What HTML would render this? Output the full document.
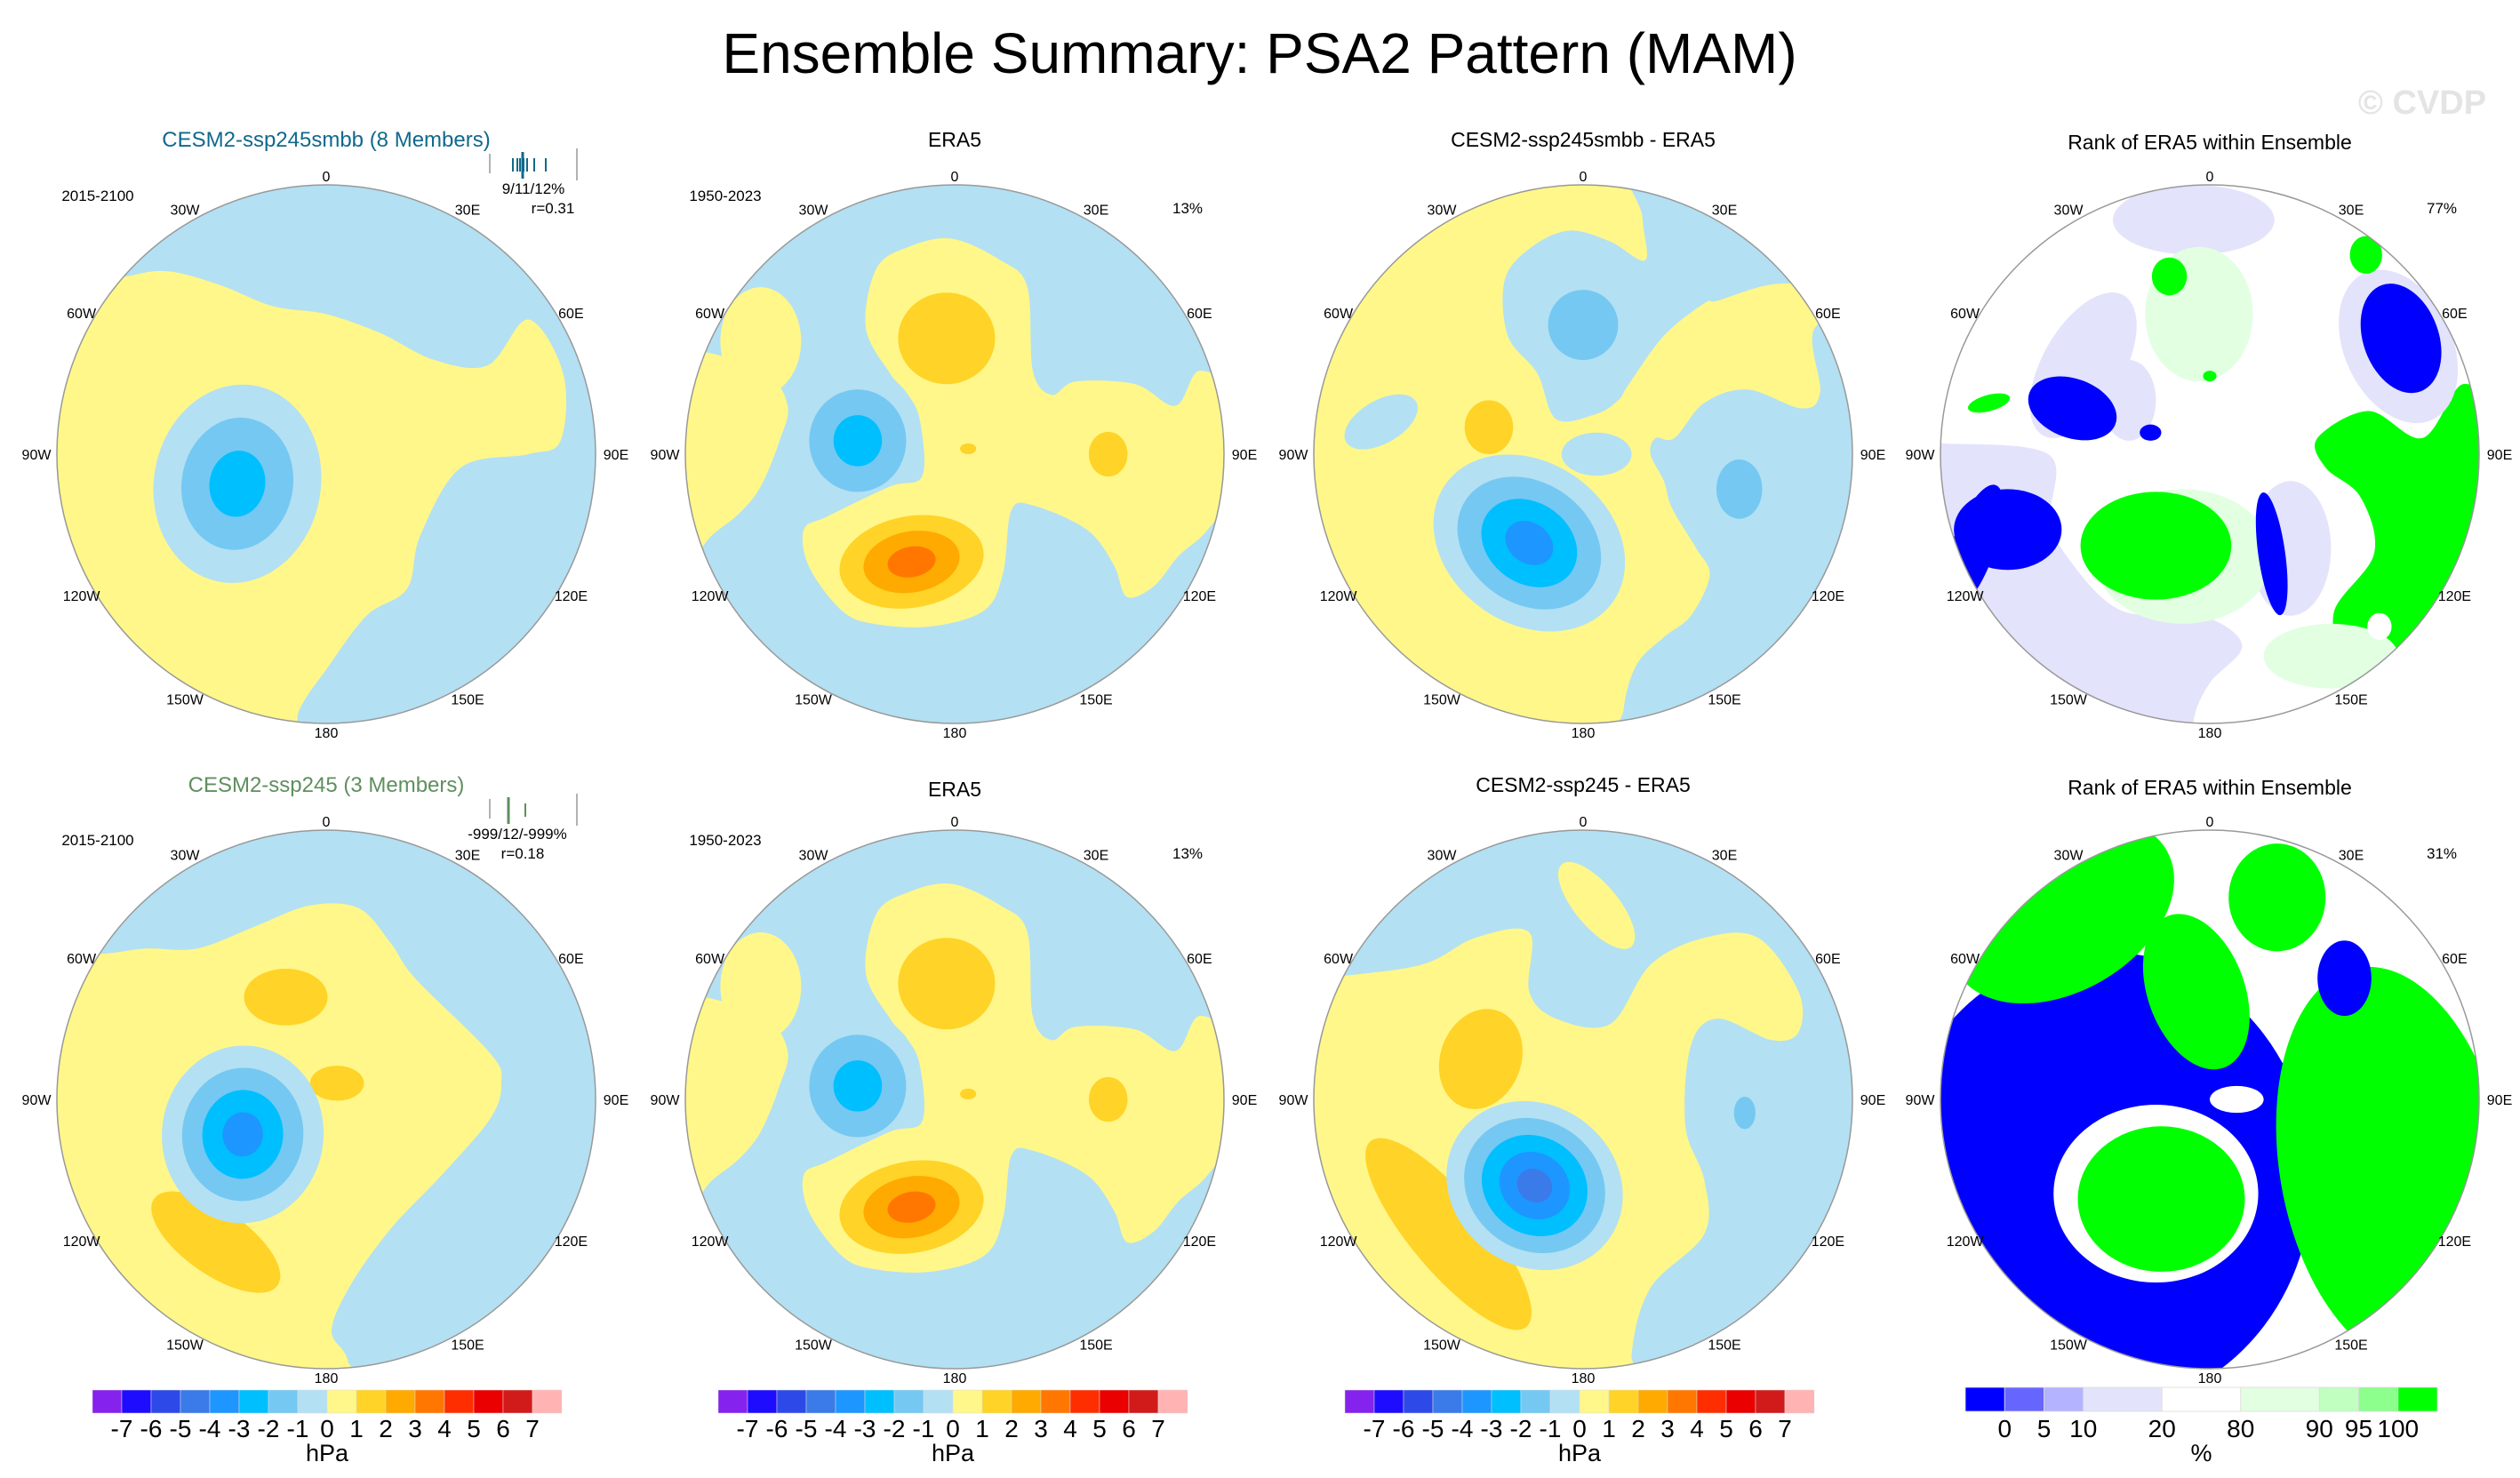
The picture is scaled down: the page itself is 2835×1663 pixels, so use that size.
<!DOCTYPE html>
<html><head><meta charset="utf-8"><style>
html,body{margin:0;padding:0;background:#fff;}
svg{display:block;font-family:"Liberation Sans",sans-serif;}
</style></head><body>
<svg id="fig" width="2835" height="1663" viewBox="0 0 2835 1663" xmlns="http://www.w3.org/2000/svg">
<text x="1417" y="82" font-size="64" text-anchor="middle">Ensemble Summary: PSA2 Pattern (MAM)</text>
<text x="2725" y="128" font-size="38" font-weight="bold" fill="#e4e4e4" text-anchor="middle">© CVDP</text>
<g id="panels"></g>
<g id="bars"></g>
</svg>
<script>
// ---- data ----
const negColors = ['#b3e0f3','#75c8f2','#00bfff','#1e96ff','#3a7be9','#2d4ae8','#1e0cff','#8522ee'];
const posColors = ['#fff78a','#ffd327','#ffaa00','#ff7700','#ff2e00','#ea0000','#d11b1b','#ffb3b3'];
const hpaColors = ['#8522ee','#1e0cff','#2d4ae8','#3a7be9','#1e96ff','#00bfff','#75c8f2','#b3e0f3','#fff78a','#ffd327','#ffaa00','#ff7700','#ff2e00','#ea0000','#d11b1b','#ffb3b3'];
const hpaLabels = ['-7','-6','-5','-4','-3','-2','-1','0','1','2','3','4','5','6','7'];
const rankColors = ['#0000ff','#6666ff','#b3b3ff','#e3e3fb','#ffffff','#e2ffe2','#c0ffc0','#8cff8c','#00ff00'];
const rankWidths = [1,1,1,2,2,2,1,1,1];
const rankLabels = ['0','5','10','20','80','90','95','100'];
const lonLabels = ['0','30E','60E','90E','120E','150E','180','150W','120W','90W','60W','30W'];
// region polygons: [level(+1 yellow / -1 light blue), points...]
const p1Regions = [[1,[-0.8,-0.65,-0.6,-0.68,-0.4,-0.63,-0.2,-0.55,0.0,-0.52,0.2,-0.45,0.4,-0.35,0.6,-0.33,0.75,-0.5,0.88,-0.3,0.87,-0.05,0.75,0.0,0.5,0.05,0.35,0.3,0.3,0.5,0.15,0.6,0.0,0.8,-0.1,0.95,-0.2,1.2,-1.2,1.2,-1.2,-0.6]]];
const p2Regions = [[1,[-0.33,-0.47,-0.29,-0.69,-0.17,-0.77,-0.01,-0.8,0.17,-0.72,0.27,-0.62,0.29,-0.31,0.36,-0.22,0.45,-0.27,0.67,-0.26,0.82,-0.18,0.91,-0.31,1.05,-0.2,1.05,0.1,0.94,0.28,0.83,0.38,0.74,0.49,0.64,0.53,0.59,0.41,0.49,0.28,0.29,0.19,0.21,0.21,0.18,0.44,0.11,0.58,-0.09,0.64,-0.3,0.63,-0.42,0.58,-0.54,0.42,-0.56,0.28,-0.47,0.23,-0.24,0.12,-0.12,0.08,-0.13,-0.13,-0.18,-0.23,-0.24,-0.3]],
  [1,[-1.2,-0.4,-0.93,-0.38,-0.7,-0.3,-0.62,-0.18,-0.65,-0.05,-0.72,0.12,-0.8,0.22,-0.9,0.3,-1.0,0.4,-1.2,0.4]]];
const p3Regions = [[-1,[-0.28,-0.44,-0.29,-0.65,-0.19,-0.77,-0.05,-0.83,0.1,-0.79,0.23,-0.72,0.22,-0.88,0.2,-1.2,1.2,-1.2,1.2,-0.55,0.88,-0.62,0.7,-0.63,0.5,-0.57,0.45,-0.56,0.3,-0.44,0.17,-0.26,0.13,-0.2,0.05,-0.15,-0.1,-0.13,-0.17,-0.3]],
  [-1,[0.87,-0.48,0.88,-0.23,0.81,-0.17,0.61,-0.24,0.45,-0.19,0.34,-0.06,0.27,-0.06,0.25,0.0,0.3,0.1,0.33,0.2,0.42,0.35,0.47,0.45,0.4,0.6,0.3,0.68,0.2,0.78,0.15,0.95,0.15,1.2,1.2,1.2,1.2,-0.48]]];
const p5Regions = [[1,[-0.85,-0.54,-0.67,-0.56,-0.48,-0.56,-0.27,-0.64,-0.06,-0.72,0.12,-0.71,0.24,-0.58,0.33,-0.45,0.61,-0.17,0.65,-0.06,0.61,0.07,0.43,0.28,0.24,0.48,0.09,0.69,0.02,0.86,0.08,0.97,0.1,1.2,-1.2,1.2,-1.2,-0.54]]];
const p7Regions = [[1,[-0.95,-0.45,-0.6,-0.5,-0.4,-0.6,-0.2,-0.62,-0.2,-0.4,-0.1,-0.3,0.1,-0.28,0.25,-0.5,0.45,-0.6,0.65,-0.6,0.8,-0.4,0.8,-0.25,0.7,-0.22,0.5,-0.3,0.4,-0.2,0.38,0.1,0.45,0.3,0.45,0.5,0.25,0.7,0.18,0.95,0.2,1.2,-1.2,1.2,-1.2,-0.4]]];
// blobs: [x, y, rx, ry, rotation, amplitude(levels), startLevel]
const p1Blobs = [[-0.33,0.11,0.31,0.37,10,-3,1]];
const p2Blobs = [[-0.03,-0.43,0.18,0.17,0,2,2],[0.57,0.0,0.072,0.083,0,2,2],[-0.16,0.4,0.27,0.17,-10,4,2],[-0.36,-0.05,0.18,0.19,0,-3,2],[-0.72,-0.42,0.15,0.2,0,1,1],[0.05,-0.02,0.03,0.02,0,2,2]];
const p3Blobs = [[0.0,-0.48,0.13,0.13,0,-2,2],[-0.35,-0.1,0.09,0.1,0,2,2],[0.58,0.13,0.085,0.11,0,-2,2],[0.05,0.0,0.13,0.08,0,-1,1],[-0.75,-0.12,0.15,0.08,-30,-1,1],[-0.2,0.33,0.38,0.3,35,-4,1]];
const p5Blobs = [[-0.15,-0.38,0.155,0.105,0,2,2],[0.04,-0.06,0.1,0.065,0,2,2],[-0.41,0.53,0.28,0.12,35,2,2],[-0.31,0.13,0.3,0.33,5,-4,1]];
const p6Blobs = p2Blobs;
const p6Regions = p2Regions;
const p7Blobs = [[0.05,-0.72,0.08,0.2,-40,1,1],[-0.5,0.5,0.45,0.14,50,2,2],[-0.38,-0.15,0.15,0.19,20,2,2],[-0.18,0.32,0.34,0.3,35,-5,1],[0.6,0.05,0.04,0.06,0,-2,2]];
// rank polygons: [colorIndex, points]
const p4RankRegions = [[3,[-1.2,-0.04,-1.0,-0.04,-0.6,0.0,-0.59,0.23,-0.53,0.38,-0.33,0.58,-0.03,0.6,0.12,0.71,0.0,0.85,-0.06,0.99,-0.06,1.2,-1.2,1.2]],
  [8,[0.4,-0.06,0.59,-0.16,0.79,-0.06,0.94,-0.26,1.05,-0.1,1.0,0.5,0.76,0.78,0.53,0.78,0.46,0.59,0.61,0.37,0.56,0.16,0.43,0.05]]];
const p8RankRegions = [];
// rank blobs: [x, y, rx, ry, rotation, colorIndex]
const p4Rank = [[-0.06,-0.87,0.3,0.13,0,3],[-0.47,-0.33,0.15,0.3,30,3],[-0.3,-0.2,0.1,0.15,0,3],[0.7,-0.4,0.2,0.3,-25,3],[0.3,0.35,0.15,0.25,0,3],
  [-0.04,-0.52,0.2,0.25,0,5],[0.45,0.75,0.25,0.12,0,5],[-0.1,0.38,0.33,0.25,0,5],
  [-0.2,0.34,0.28,0.2,0,8],[0.63,0.64,0.045,0.05,0,4],[-0.15,-0.66,0.065,0.07,0,8],[0.58,-0.74,0.06,0.07,0,8],[0.0,-0.29,0.025,0.02,0,8],[-0.82,-0.19,0.08,0.03,-15,8],
  [0.71,-0.43,0.14,0.21,-20,0],[-0.75,0.28,0.2,0.15,0,0],[-0.88,0.35,0.08,0.25,20,0],[-0.51,-0.17,0.17,0.11,20,0],[-0.22,-0.08,0.04,0.03,0,0],[0.23,0.37,0.05,0.23,-8,0]];
const p8Rank = [[-0.4,0.3,0.78,0.85,0,0],[-0.55,-0.7,0.45,0.3,-30,8],[-0.05,-0.4,0.18,0.3,-20,8],[0.25,-0.75,0.18,0.2,0,8],[0.68,0.25,0.42,0.75,-10,8],[0.5,-0.45,0.1,0.14,0,0],[-0.2,0.35,0.38,0.33,0,4],[-0.18,0.37,0.31,0.27,0,8],[0.1,0.0,0.1,0.05,0,4]];
// ---- layout ----
const NS='http://www.w3.org/2000/svg';
const colX=[367,1074,1781,2486], rowY=[511,1237], R=303;
function mk(tag,attrs,parent){const e=document.createElementNS(NS,tag);for(const k in attrs)e.setAttribute(k,attrs[k]);parent.appendChild(e);return e;}
function smoothPath(pts){
  const n=pts.length;let d='M'+pts[0][0].toFixed(1)+','+pts[0][1].toFixed(1);
  for(let i=0;i<n;i++){
    const p0=pts[(i-1+n)%n],p1=pts[i],p2=pts[(i+1)%n],p3=pts[(i+2)%n];
    const c1=[p1[0]+(p2[0]-p0[0])/6,p1[1]+(p2[1]-p0[1])/6],c2=[p2[0]-(p3[0]-p1[0])/6,p2[1]-(p3[1]-p1[1])/6];
    d+='C'+c1[0].toFixed(1)+','+c1[1].toFixed(1)+' '+c2[0].toFixed(1)+','+c2[1].toFixed(1)+' '+p2[0].toFixed(1)+','+p2[1].toFixed(1);
  }
  return d+'Z';
}
const panelsG=document.getElementById('panels');
const defs=mk('defs',{},panelsG);
function drawPanel(i,col,row,base,regions,blobs,rank){
  const cx=colX[col], cy=rowY[row];
  const g=mk('g',{},panelsG);
  
  
  const cp=mk('clipPath',{id:'c'+i},defs);
  mk('circle',{cx:cx,cy:cy,r:R},cp);
  const inner=mk('g',{'clip-path':'url(#c'+i+')'},g);
  mk('rect',{x:cx-R,y:cy-R,width:2*R,height:2*R,fill:base},inner);
  regions.forEach(rg=>{
    const pts=[];for(let k=0;k<rg[1].length;k+=2)pts.push([cx+rg[1][k]*R,cy+rg[1][k+1]*R]);
    const fill=rank?rankColors[rg[0]]:(rg[0]>0?posColors[0]:negColors[0]);
    const e=mk('path',{d:smoothPath(pts),fill:fill},inner);
    
    
  });
  blobs.forEach(b=>{
    if(rank){
      const e=mk('ellipse',{cx:cx+b[0]*R,cy:cy+b[1]*R,rx:b[2]*R,ry:b[3]*R,fill:rankColors[b[5]],transform:'rotate('+b[4]+' '+(cx+b[0]*R)+' '+(cy+b[1]*R)+')'},inner);
      
      
    } else {
      const n=Math.abs(b[5]), st=b[6]||1, cnt=n-st+1;
      for(let k=st;k<=n;k++){
        const s=1-(k-st)/cnt;
        const col2=b[5]<0?negColors[k-1]:posColors[k-1];
        const bx=cx+b[0]*R, by=cy+b[1]*R;
        const e=mk('ellipse',{cx:bx,cy:by,rx:b[2]*R*s,ry:b[3]*R*s,fill:col2,transform:'rotate('+b[4]+' '+bx+' '+by+')'},inner);
        
        
      }
    }
  });
  const bd=mk('circle',{cx:cx,cy:cy,r:R,fill:'none',stroke:'#999',"stroke-width":1.5},g);
  
  
  lonLabels.forEach((t,j)=>{
    const a=j*30*Math.PI/180, rr=(j%3===0)?(j%6===0?313:326):318;
    const tx=mk('text',{x:cx+Math.sin(a)*rr,y:cy-Math.cos(a)*rr+6,'font-size':16,'text-anchor':'middle'},g);
    tx.textContent=t;
    
    
  });
}
drawPanel(0,0,0,'#b3e0f3',p1Regions,p1Blobs,false);
drawPanel(1,1,0,'#b3e0f3',p2Regions,p2Blobs,false);
drawPanel(2,2,0,'#fff78a',p3Regions,p3Blobs,false);
drawPanel(3,3,0,'#ffffff',p4RankRegions,p4Rank,true);
drawPanel(4,0,1,'#b3e0f3',p5Regions,p5Blobs,false);
drawPanel(5,1,1,'#b3e0f3',p6Regions,p6Blobs,false);
drawPanel(6,2,1,'#b3e0f3',p7Regions,p7Blobs,false);
drawPanel(7,3,1,'#ffffff',p8RankRegions,p8Rank,true);
// texts
const texts=[
 [367,165,24,'#11698c','CESM2-ssp245smbb (8 Members)','panel-title-1'],
 [1074,165,23,'#000','ERA5','panel-title-2'],
 [1781,165,23,'#000','CESM2-ssp245smbb - ERA5','panel-title-3'],
 [2486,168,23,'#000','Rank of ERA5 within Ensemble','panel-title-4'],
 [367,891,24,'#5f8f5f','CESM2-ssp245 (3 Members)','panel-title-5'],
 [1074,896,23,'#000','ERA5','panel-title-6'],
 [1781,891,23,'#000','CESM2-ssp245 - ERA5','panel-title-7'],
 [2486,894,23,'#000','Rank of ERA5 within Ensemble','panel-title-8'],
 [110,226,17,'#000','2015-2100','period-label-1'],
 [816,226,17,'#000','1950-2023','period-label-2'],
 [110,951,17,'#000','2015-2100','period-label-5'],
 [816,951,17,'#000','1950-2023','period-label-6'],
 [1336,240,17,'#000','13%','pct-label-2'],
 [2747,240,17,'#000','77%','pct-label-4'],
 [1336,966,17,'#000','13%','pct-label-6'],
 [2747,966,17,'#000','31%','pct-label-8'],
 [600,218,17,'#000','9/11/12%','stats-label-1'],
 [622,240,17,'#000','r=0.31','corr-label-1'],
 [582,944,17,'#000','-999/12/-999%','stats-label-5'],
 [588,966,17,'#000','r=0.18','corr-label-5']
];
const svg=document.getElementById('fig');
texts.forEach(t=>{const e=mk('text',{x:t[0],y:t[1],'font-size':t[2],fill:t[3],'text-anchor':'middle'},svg);e.textContent=t[4];
 
 });
// member spread ticks
[[0,'#11698c'],[1,'#5f8f5f']].forEach((m,idx)=>{
  const y0=rowY[idx]-338;
  const g=mk('g',{},svg);
  
  
  const xs=idx===0?[577,582,585,589,593,601,614]:[572,591];
  mk('line',{x1:551,y1:y0,x2:551,y2:y0+22,stroke:'#999','stroke-width':1.5},g);
  xs.forEach(x=>mk('line',{x1:x,y1:y0+5,x2:x,y2:y0+20,stroke:m[1],'stroke-width':2},g));
  mk('line',{x1:idx===0?588:572,y1:y0-2,x2:idx===0?588:572,y2:y0+28,stroke:m[1],'stroke-width':3},g);
  mk('line',{x1:649,y1:y0-6,x2:649,y2:y0+30,stroke:'#999','stroke-width':1.5},g);
});
// colorbars
const barsG=document.getElementById('bars');
[104,808,1513].forEach((x0,bi)=>{
  const g=mk('g',{},barsG);
  
  
  const w=528/hpaColors.length;
  hpaColors.forEach((c,i)=>mk('rect',{x:x0+i*w,y:1564,width:w,height:26,fill:c,stroke:'#ddd','stroke-width':0.5},g));
  hpaLabels.forEach((t,i)=>{const e=mk('text',{x:x0+(i+1)*w,y:1617,'font-size':28,'text-anchor':'middle'},g);e.textContent=t;
    
    });
  const u=mk('text',{x:x0+264,y:1644,'font-size':27,'text-anchor':'middle'},g);u.textContent='hPa';
  
  
});
(function(){
  const g=mk('g',{},barsG);
  
  
  const x0=2211, W=531, tot=rankWidths.reduce((a,b)=>a+b,0);
  let x=x0; const edges=[];
  rankColors.forEach((c,i)=>{const w=rankWidths[i]*W/tot;mk('rect',{x:x,y:1561,width:w,height:27,fill:c,stroke:'#ddd','stroke-width':0.8},g);x+=w;edges.push(x);});
  rankLabels.forEach((t,i)=>{const e=mk('text',{x:edges[i],y:1617,'font-size':28,'text-anchor':'middle'},g);e.textContent=t;
    
    });
  const u=mk('text',{x:x0+W/2,y:1644,'font-size':27,'text-anchor':'middle'},g);u.textContent='%';
  
  
})();
</script>
</body></html>
